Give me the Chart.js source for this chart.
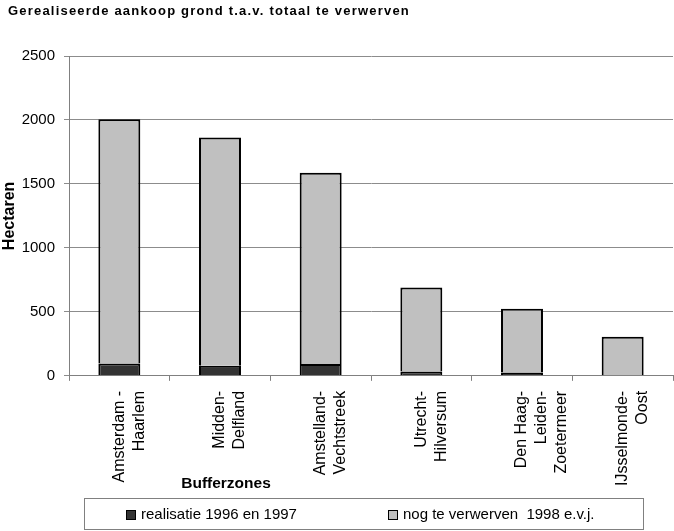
<!DOCTYPE html>
<html>
<head>
<meta charset="utf-8">
<script src="https://cdn.jsdelivr.net/npm/chart.js@4/dist/chart.umd.min.js"></script>
<style>
  html, body { margin: 0; padding: 0; background: #fff; }
</style>
</head>
<body>
<canvas id="grafiek" width="674" height="531"></canvas>
<script>
const zones = [
    ["Amsterdam -", "Haarlem"],
    ["Midden-", "Delfland"],
    ["Amstelland-", "Vechtstreek"],
    ["Utrecht-", "Hilversum"],
    ["Den Haag-", "Leiden-", "Zoetermeer"],
    ["IJsselmonde-", "Oost"],
  ],
  realisatie = [96, 78, 92, 34, 26, 0],
  nogTeVerwerven = [1909, 1785, 1496, 656, 499, 305],
  yTicks = [0, 500, 1000, 1500, 2000, 2500];

const fontFam = "'Liberation Sans', Arial, sans-serif";
Chart.defaults.font.family = fontFam;
Chart.defaults.font.size = 15;
Chart.defaults.color = "#000";

// title, framed legend and x-axis title drawn by hand like the original
const extras = {
  id: "extras",
  afterDraw(chart) {
    const ctx = chart.ctx;
    ctx.save();
    ctx.fillStyle = "#000";
    ctx.textAlign = "left";
    ctx.textBaseline = "alphabetic";
    ctx.font = "bold 13px " + fontFam;
    ctx.letterSpacing = "1.2px";
    ctx.fillText("Gerealiseerde aankoop grond t.a.v. totaal te verwerven", 8, 15);
    ctx.letterSpacing = "0px";

    ctx.font = "bold 15.5px " + fontFam;
    ctx.textAlign = "center";
    ctx.fillText("Bufferzones", 226, 488);

    ctx.strokeStyle = "#808080";
    ctx.lineWidth = 1;
    ctx.strokeRect(84.5, 498.5, 559, 31);

    const posX = [126, 388];
    ctx.font = "15px " + fontFam;
    ctx.textBaseline = "middle";
    ctx.textAlign = "left";
    chart.data.datasets.forEach((ds, i) => {
      ctx.fillStyle = ds.backgroundColor;
      ctx.fillRect(posX[i], 510, 10, 10);
      ctx.strokeStyle = "#000";
      ctx.strokeRect(posX[i] + 0.5, 510.5, 9, 9);
      ctx.fillStyle = "#000";
      ctx.fillText(ds.label, posX[i] + 15, 515);
    });
    ctx.restore();
  },
};

new Chart(document.getElementById("grafiek").getContext("2d"), {
  type: "bar",
  data: {
    labels: zones,
    datasets: [
      {
        label: "realisatie 1996 en 1997",
        data: realisatie,
        backgroundColor: "#333333",
        borderColor: "#000",
        borderWidth: 2,
        barPercentage: 0.417,
        categoryPercentage: 1,
      },
      {
        label: "nog te verwerven  1998 e.v.j.",
        data: nogTeVerwerven,
        backgroundColor: "#c0c0c0",
        borderColor: "#000",
        borderWidth: 2,
        barPercentage: 0.417,
        categoryPercentage: 1,
      },
    ],
  },
  options: {
    responsive: false,
    animation: false,
    layout: { padding: { left: 0, right: 1, top: 56, bottom: 35 } },
    plugins: {
      legend: { display: false },
      tooltip: { enabled: false },
    },
    scales: {
      x: {
        stacked: true,
        border: { color: "#808080" },
        grid: { drawOnChartArea: false, tickLength: 5, color: "#808080", offset: true },
        ticks: {
          minRotation: 90,
          maxRotation: 90,
          padding: 10,
          autoSkip: false,
          font: { size: 16, lineHeight: 1.25 },
        },
      },
      y: {
        stacked: true,
        min: yTicks[0],
        max: yTicks[yTicks.length - 1],
        border: { color: "#808080" },
        grid: { tickLength: 5, color: "#8c8c8c" },
        afterBuildTicks: (axis) => {
          axis.ticks = yTicks.map((v) => ({ value: v }));
        },
        afterFit: (axis) => {
          axis.width = 69;
        },
        ticks: { padding: 9, callback: (v) => String(v) },
        title: {
          display: true,
          text: "Hectaren",
          font: { size: 16, weight: "bold" },
          padding: { top: 0, bottom: 0 },
        },
      },
    },
  },
  plugins: [extras],
});
</script>
</body>
</html>
